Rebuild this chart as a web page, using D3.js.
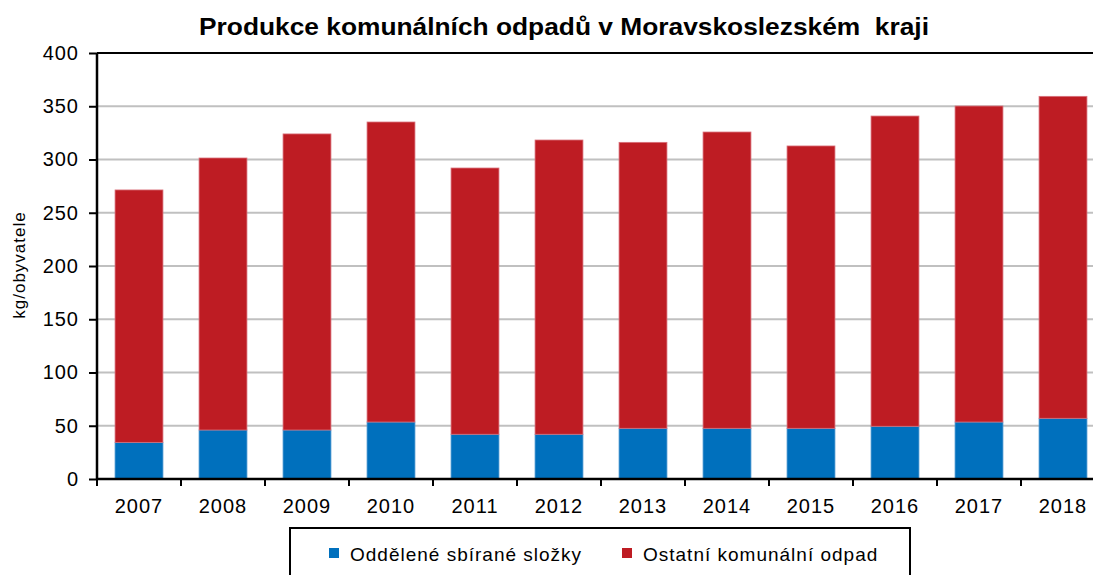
<!DOCTYPE html>
<html><head><meta charset="utf-8">
<script src="https://cdn.jsdelivr.net/npm/d3@7"></script>
<style>body{margin:0;background:#fff;}svg{display:block;font-family:"Liberation Sans",Arial,sans-serif;}</style>
</head><body>
<svg id="c" width="1093" height="575"></svg>
<script>
const years = ["2007","2008","2009","2010","2011","2012","2013","2014","2015","2016","2017","2018"];
const separated = [34.4, 46, 46, 53.5, 42, 42, 47.6, 47.6, 47.6, 49.5, 53.5, 57];
const other = [237, 255.4, 278, 281.7, 250, 276.3, 268.5, 278.2, 265.1, 291.3, 296.7, 302.3];
const yTicks = [0, 50, 100, 150, 200, 250, 300, 350, 400];
const seriesNames = ["Oddělené sbírané složky", "Ostatní komunální odpad"];
const colors = ["#0070bd", "#be1c23"];

(function () {
const svg = d3.select("#c");
const FF = "Liberation Sans, Arial, sans-serif";
const pL = 97, pR = 1105, pT = 53, pB = 479;
const x = d3.scaleBand().domain(years).range([pL, pR]).paddingInner(0.43).paddingOuter(0.215);
const y = d3.scaleLinear().domain([0, 400]).range([pB, pT]);

// gridlines
svg.append("g").selectAll("line").data(yTicks.filter(d => d > 0 && d < 400)).join("line")
  .attr("x1", pL).attr("x2", pR).attr("y1", d => y(d)).attr("y2", d => y(d))
  .attr("stroke", "#c0c0c0").attr("stroke-width", 2);

// stacked bars
const rows = years.map((yr, i) => ({year: yr, s0: separated[i], s1: other[i]}));
const stack = d3.stack().keys(["s0", "s1"])(rows);
svg.append("g").selectAll("g").data(stack).join("g")
  .attr("fill", (d, i) => colors[i])
  .attr("stroke", (d, i) => i === 0 ? "#4a97d0" : "#d9707a").attr("stroke-width", 0.8)
  .selectAll("rect").data(d => d).join("rect")
  .attr("x", d => x(d.data.year)).attr("width", x.bandwidth())
  .attr("y", d => y(d[1])).attr("height", d => y(d[0]) - y(d[1]));

// top frame line
svg.append("line").attr("x1", pL).attr("x2", pR).attr("y1", pT).attr("y2", pT)
  .attr("stroke", "#000").attr("stroke-width", 2);

// y axis
const yAxis = d3.axisLeft(y).tickValues(yTicks).tickSize(8).tickPadding(11);
const gy = svg.append("g").attr("transform", `translate(${pL},0)`).call(yAxis);
gy.select(".domain").attr("stroke", "#000").attr("stroke-width", 2.5).attr("d", `M0,${pB}V${pT}`);
gy.selectAll(".tick line").attr("stroke", "#000").attr("stroke-width", 2);
gy.selectAll(".tick text").attr("font-size", 20).attr("fill", "#000").attr("font-family", FF)
  .attr("letter-spacing", 1).attr("dx", 1);

// x axis
const xAxis = d3.axisBottom(x).tickSize(0).tickPadding(0);
const gx = svg.append("g").attr("transform", `translate(0,${pB})`).call(xAxis);
gx.select(".domain").attr("stroke", "#000").attr("stroke-width", 2.5).attr("d", `M${pL},0H${pR}`);
gx.selectAll(".tick text").attr("font-size", 20).attr("fill", "#000").attr("font-family", FF)
  .attr("letter-spacing", 1).attr("y", 34).attr("dy", 0);
// boundary ticks between categories
const bounds = d3.range(0, years.length + 1).map(i => pL + i * (pR - pL) / years.length);
svg.append("g").selectAll("line").data(bounds).join("line")
  .attr("x1", d => d).attr("x2", d => d).attr("y1", pB).attr("y2", pB + 7)
  .attr("stroke", "#000").attr("stroke-width", 2);

// y label
svg.append("text").attr("transform", "translate(25,265) rotate(-90)")
  .attr("text-anchor", "middle").attr("font-size", 17).attr("letter-spacing", 1)
  .attr("fill", "#000").text("kg/obyvatele");

// title
svg.append("text").attr("x", 564).attr("y", 35).attr("text-anchor", "middle")
  .attr("font-size", 24).attr("font-weight", "bold").attr("fill", "#000")
  .attr("textLength", 730).attr("lengthAdjust", "spacingAndGlyphs")
  .style("white-space", "pre")
  .text("Produkce komunálních odpadů v Moravskoslezském  kraji");

// legend
const lg = svg.append("g");
lg.append("rect").attr("x", 290).attr("y", 528).attr("width", 620).attr("height", 60)
  .attr("fill", "#fff").attr("stroke", "#000").attr("stroke-width", 2);
const lx = [329, 622];
seriesNames.forEach((n, i) => {
  lg.append("rect").attr("x", lx[i]).attr("y", 548).attr("width", 10).attr("height", 10).attr("fill", colors[i]);
  lg.append("text").attr("x", lx[i] + 21).attr("y", 561).attr("font-size", 19)
    .attr("letter-spacing", 1).attr("fill", "#000").text(n);
});
})();
</script>
</body></html>
